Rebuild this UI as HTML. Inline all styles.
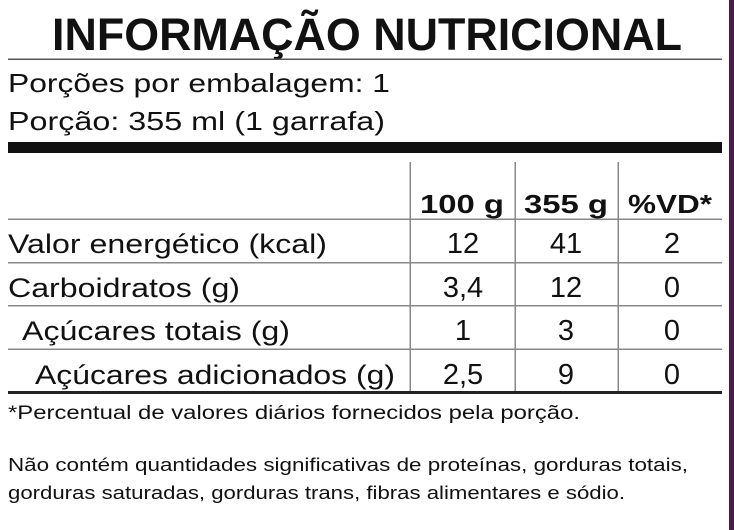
<!DOCTYPE html>
<html><head><meta charset="utf-8"><style>
html,body{margin:0;padding:0;background:#fff;}
svg{display:block;}
text{font-family:"Liberation Sans",Arial,sans-serif;fill:#111;}
</style></head><body>
<svg width="734" height="530" viewBox="0 0 734 530" xmlns="http://www.w3.org/2000/svg">
<rect x="0" y="0" width="734" height="530" fill="#fff"/>
<rect x="729" y="0" width="5" height="530" fill="#4a1a48"/>
<text x="52" y="50" font-size="45" font-weight="bold" textLength="630" lengthAdjust="spacingAndGlyphs">INFORMAÇÃO NUTRICIONAL</text>
<rect x="8" y="58.5" width="714" height="1.5" fill="#555"/>
<text x="8" y="92" font-size="26" textLength="382" lengthAdjust="spacingAndGlyphs">Porções por embalagem: 1</text>
<text x="8" y="130" font-size="26" textLength="377" lengthAdjust="spacingAndGlyphs">Porção: 355 ml (1 garrafa)</text>
<rect x="8" y="142" width="714" height="11" fill="#111"/>
<g fill="#888">
<rect x="409.5" y="162" width="1.5" height="230"/>
<rect x="514.5" y="162" width="1.5" height="230"/>
<rect x="617.5" y="162" width="1.5" height="230"/>
<rect x="8" y="218.5" width="714" height="1.5"/>
<rect x="8" y="262" width="714" height="1.5"/>
<rect x="8" y="305" width="714" height="1.5"/>
<rect x="8" y="348.5" width="714" height="1.5"/>
</g>
<rect x="8" y="391" width="714" height="3" fill="#222"/>
<g font-weight="bold" font-size="26">
<text x="462" y="213" text-anchor="middle" textLength="84" lengthAdjust="spacingAndGlyphs">100 g</text>
<text x="566" y="213" text-anchor="middle" textLength="84" lengthAdjust="spacingAndGlyphs">355 g</text>
<text x="670" y="213" text-anchor="middle" textLength="84" lengthAdjust="spacingAndGlyphs">%VD*</text>
</g>
<g font-size="27">
<text x="8" y="253" textLength="319" lengthAdjust="spacingAndGlyphs">Valor energético (kcal)</text>
<text x="8" y="297" textLength="232" lengthAdjust="spacingAndGlyphs">Carboidratos (g)</text>
<text x="22" y="340" textLength="268" lengthAdjust="spacingAndGlyphs">Açúcares totais (g)</text>
<text x="35" y="384" textLength="360" lengthAdjust="spacingAndGlyphs">Açúcares adicionados (g)</text>
</g>
<g font-size="29" text-anchor="middle">
<text x="463" y="253">12</text><text x="566" y="253">41</text><text x="672" y="253">2</text>
<text x="463" y="297">3,4</text><text x="566" y="297">12</text><text x="672" y="297">0</text>
<text x="463" y="340">1</text><text x="566" y="340">3</text><text x="672" y="340">0</text>
<text x="463" y="384">2,5</text><text x="566" y="384">9</text><text x="672" y="384">0</text>
</g>
<text x="8" y="419" font-size="19" textLength="572" lengthAdjust="spacingAndGlyphs">*Percentual de valores diários fornecidos pela porção.</text>
<text x="8" y="471" font-size="18.5" textLength="680" lengthAdjust="spacingAndGlyphs">Não contém quantidades significativas de proteínas, gorduras totais,</text>
<text x="8" y="499" font-size="18.5" textLength="617" lengthAdjust="spacingAndGlyphs">gorduras saturadas, gorduras trans, fibras alimentares e sódio.</text>
</svg>
</body></html>
